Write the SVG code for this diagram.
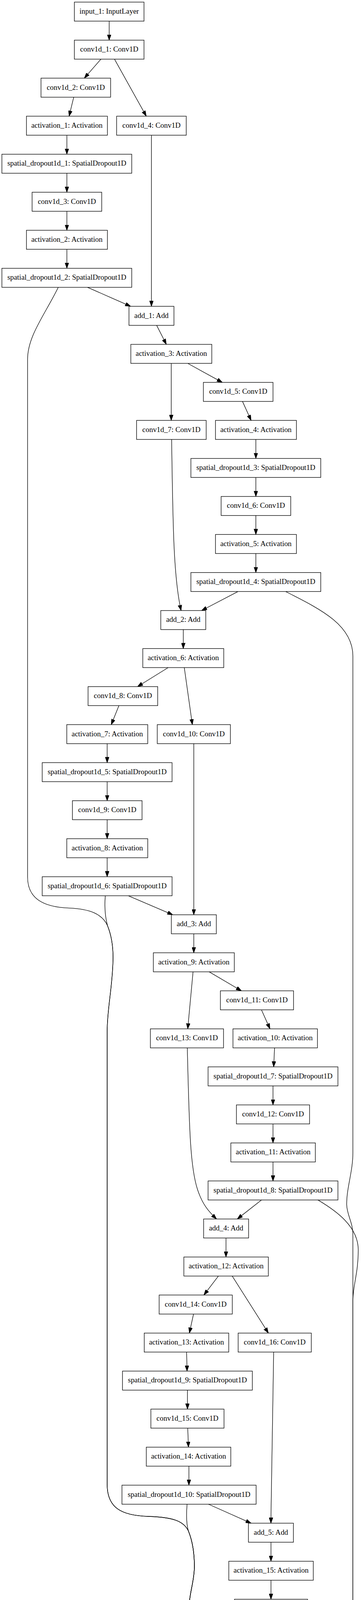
<svg xmlns="http://www.w3.org/2000/svg" width="923" height="4927" viewBox="0 0 923 4927">
<style>
.node rect{fill:#fff;stroke:#000;stroke-width:1.35}
.node text{font-family:"Liberation Serif","Times New Roman",serif;font-size:18.93px;text-anchor:middle;fill:#000}
#edges path{fill:none;stroke:#000;stroke-width:1.35;marker-end:url(#ah)}
</style>
<defs>
<marker id="ah" markerUnits="userSpaceOnUse" markerWidth="14" markerHeight="10" viewBox="0 0 13.5 9.4" refX="13.5" refY="4.7" orient="auto">
<path d="M0,0 L13.5,4.7 L0,9.4 z" fill="#000" stroke="#000" stroke-width="1"/>
</marker>
</defs>
<rect x="0" y="0" width="923" height="4927" fill="#fff"/>
<g id="edges">
<path d="M279.2,54.1 L279.2,102.75"/>
<path d="M258,151.45 L215.6,200.1"/>
<path d="M292.7,151.45 L374,297.45"/>
<path d="M188.5,248.8 L176.7,297.45"/>
<path d="M171,346.15 L171,394.8"/>
<path d="M387.2,346.15 L387.2,784.2"/>
<path d="M171,443.5 L171,492.15"/>
<path d="M171,540.85 L171,589.5"/>
<path d="M171,638.2 L171,686.85"/>
<path d="M223.8,735.55 L334,784.2"/>
<path d="M149,735.55 C115,805 70.5,860 70.5,920 L70.5,2245 C70.5,2300 110,2322 176.7,2324.7 C230,2327 262,2340 275,2370 C285,2395 289,2420 289,2450 C289,2520 274,2580 274,2640 L274,3800 C274,3860 310,3880 380,3882 C440,3884 470,3893 482,3920 C492,3945 497,3975 497,4010 C497,4050 483,4080 483,4120 L483,4560 C483,4625 520,4675 635,4693.7"/>
<path d="M400.5,832.9 L425.3,881.55"/>
<path d="M480,930.25 L568.4,978.9"/>
<path d="M437.8,930.25 L437.8,1076.25"/>
<path d="M620,1027.6 L642,1076.25"/>
<path d="M654.2,1124.95 L654.2,1173.6"/>
<path d="M654.2,1222.3 L654.2,1270.95"/>
<path d="M654.2,1319.65 L654.2,1368.3"/>
<path d="M654.2,1417 L654.2,1465.65"/>
<path d="M438.8,1124.95 C442,1350 444,1480 463,1563"/>
<path d="M608.4,1514.35 L515.4,1563"/>
<path d="M730.4,1514.35 C820,1560 902.3,1600 902.3,1680 L902.3,2950 C902.3,3000 886,3040 886.4,3084 C887,3110 902.3,3130 902.3,3160 L902.3,4570 C902.3,4630 870,4672 749.2,4693.7"/>
<path d="M468.6,1611.7 L468.6,1660.35"/>
<path d="M430,1709.05 L351.6,1757.7"/>
<path d="M471.2,1709.05 L491.8,1855.05"/>
<path d="M304,1806.4 L284.5,1855.05"/>
<path d="M274,1903.75 L274,1952.4"/>
<path d="M495.5,1903.75 L495.5,2341.8"/>
<path d="M274,2001.1 L274,2049.75"/>
<path d="M274,2098.45 L274,2147.1"/>
<path d="M274,2195.8 L274,2244.45"/>
<path d="M328,2293.15 L441.8,2341.8"/>
<path d="M269.2,2293.15 C267,2320 268,2345 275,2370 C285,2395 289,2420 289,2450 C289,2520 274,2580 274,2640 L274,3800 C274,3860 310,3880 380,3882 C440,3884 470,3893 482,3920 C492,3945 497,3975 497,4010 C497,4050 483,4080 483,4120 L483,4560 C483,4625 520,4675 635,4693.7"/>
<path d="M495.5,2390.5 L495.5,2439.15"/>
<path d="M534.8,2487.85 L617.3,2536.5"/>
<path d="M493.6,2487.85 L480,2633.85"/>
<path d="M668.5,2585.2 L690.3,2633.85"/>
<path d="M702,2682.55 L699.7,2731.2"/>
<path d="M698,2779.9 L698,2828.55"/>
<path d="M698,2877.25 L698,2925.9"/>
<path d="M698,2974.6 L698,3023.25"/>
<path d="M478.9,2682.55 C484,2900 487,2990 505,3045 C518,3085 535,3103 553.7,3120.6"/>
<path d="M668.5,3071.95 L606.7,3120.6"/>
<path d="M812.8,3071.95 C860,3100 916,3140 916,3200 C916,3260 902.3,3290 902.3,3330 L902.3,4570 C902.3,4630 870,4672 749.2,4693.7"/>
<path d="M577.8,3169.3 L577.8,3217.95"/>
<path d="M558.4,3266.65 L521.3,3315.3"/>
<path d="M593.7,3266.65 L686.2,3412.65"/>
<path d="M494.8,3364 L484.2,3412.65"/>
<path d="M477.1,3461.35 L478.3,3510"/>
<path d="M699.7,3461.35 C697,3600 694,3750 692.7,3899.4"/>
<path d="M479.3,3558.7 L479.3,3607.35"/>
<path d="M480,3656.05 L481.8,3704.7"/>
<path d="M483,3753.4 L483,3802.05"/>
<path d="M533,3850.75 L642,3899.4"/>
<path d="M478.3,3850.75 C476,3880 477,3905 482,3920 C492,3945 497,3975 497,4010 C497,4050 483,4080 483,4120 L483,4560 C483,4625 520,4675 635,4693.7"/>
<path d="M692.8,3948.1 L692.8,3996.75"/>
<path d="M692.8,4045.45 L692.8,4094.1"/>
<path d="M692.8,4142.8 L692.8,4191.45"/>
<path d="M692.8,4240.15 L692.8,4288.8"/>
<path d="M692.8,4337.5 L692.8,4386.15"/>
<path d="M692.8,4434.85 L692.8,4483.5"/>
<path d="M692.8,4532.2 L692.8,4580.85"/>
<path d="M692.8,4629.55 L692.8,4678.2"/>
<path d="M692.8,4726.9 L692.8,4775.55"/>
<path d="M692.8,4824.25 L692.8,4872.9"/>
</g>
<g id="input_1" class="node"><rect x="190.2" y="5.4" width="178" height="48.7"/><text x="279.2" y="34.85">input_1: InputLayer</text></g>
<g id="conv1d_1" class="node"><rect x="190.2" y="102.75" width="178" height="48.7"/><text x="279.2" y="132.2">conv1d_1: Conv1D</text></g>
<g id="conv1d_2" class="node"><rect x="104.8" y="200.1" width="178" height="48.7"/><text x="193.8" y="229.55">conv1d_2: Conv1D</text></g>
<g id="activation_1" class="node"><rect x="67.6" y="297.45" width="207" height="48.7"/><text x="171.1" y="326.9">activation_1: Activation</text></g>
<g id="conv1d_4" class="node"><rect x="298.2" y="297.45" width="178" height="48.7"/><text x="387.2" y="326.9">conv1d_4: Conv1D</text></g>
<g id="spatial_dropout1d_1" class="node"><rect x="4.8" y="394.8" width="332" height="48.7"/><text x="170.8" y="424.25">spatial_dropout1d_1: SpatialDropout1D</text></g>
<g id="conv1d_3" class="node"><rect x="82.1" y="492.15" width="178" height="48.7"/><text x="171.1" y="521.6">conv1d_3: Conv1D</text></g>
<g id="activation_2" class="node"><rect x="67.6" y="589.5" width="207" height="48.7"/><text x="171.1" y="618.95">activation_2: Activation</text></g>
<g id="spatial_dropout1d_2" class="node"><rect x="4.8" y="686.85" width="332" height="48.7"/><text x="170.8" y="716.3">spatial_dropout1d_2: SpatialDropout1D</text></g>
<g id="add_1" class="node"><rect x="329.7" y="784.2" width="115" height="48.7"/><text x="387.2" y="813.65">add_1: Add</text></g>
<g id="activation_3" class="node"><rect x="334.5" y="881.55" width="207" height="48.7"/><text x="438" y="911">activation_3: Activation</text></g>
<g id="conv1d_5" class="node"><rect x="520" y="978.9" width="178" height="48.7"/><text x="609" y="1008.35">conv1d_5: Conv1D</text></g>
<g id="conv1d_7" class="node"><rect x="349.2" y="1076.25" width="178" height="48.7"/><text x="438.2" y="1105.7">conv1d_7: Conv1D</text></g>
<g id="activation_4" class="node"><rect x="550.9" y="1076.25" width="207" height="48.7"/><text x="654.4" y="1105.7">activation_4: Activation</text></g>
<g id="spatial_dropout1d_3" class="node"><rect x="488.1" y="1173.6" width="332" height="48.7"/><text x="654.1" y="1203.05">spatial_dropout1d_3: SpatialDropout1D</text></g>
<g id="conv1d_6" class="node"><rect x="565.4" y="1270.95" width="178" height="48.7"/><text x="654.4" y="1300.4">conv1d_6: Conv1D</text></g>
<g id="activation_5" class="node"><rect x="550.9" y="1368.3" width="207" height="48.7"/><text x="654.4" y="1397.75">activation_5: Activation</text></g>
<g id="spatial_dropout1d_4" class="node"><rect x="488.1" y="1465.65" width="332" height="48.7"/><text x="654.1" y="1495.1">spatial_dropout1d_4: SpatialDropout1D</text></g>
<g id="add_2" class="node"><rect x="411.1" y="1563" width="115" height="48.7"/><text x="468.6" y="1592.45">add_2: Add</text></g>
<g id="activation_6" class="node"><rect x="365.1" y="1660.35" width="207" height="48.7"/><text x="468.6" y="1689.8">activation_6: Activation</text></g>
<g id="conv1d_8" class="node"><rect x="225.2" y="1757.7" width="178" height="48.7"/><text x="314.2" y="1787.15">conv1d_8: Conv1D</text></g>
<g id="activation_7" class="node"><rect x="170.7" y="1855.05" width="207" height="48.7"/><text x="274.2" y="1884.5">activation_7: Activation</text></g>
<g id="conv1d_10" class="node"><rect x="402.1" y="1855.05" width="187" height="48.7"/><text x="495.6" y="1884.5">conv1d_10: Conv1D</text></g>
<g id="spatial_dropout1d_5" class="node"><rect x="107.9" y="1952.4" width="332" height="48.7"/><text x="273.9" y="1981.85">spatial_dropout1d_5: SpatialDropout1D</text></g>
<g id="conv1d_9" class="node"><rect x="185.2" y="2049.75" width="178" height="48.7"/><text x="274.2" y="2079.2">conv1d_9: Conv1D</text></g>
<g id="activation_8" class="node"><rect x="170.7" y="2147.1" width="207" height="48.7"/><text x="274.2" y="2176.55">activation_8: Activation</text></g>
<g id="spatial_dropout1d_6" class="node"><rect x="107.9" y="2244.45" width="332" height="48.7"/><text x="273.9" y="2273.9">spatial_dropout1d_6: SpatialDropout1D</text></g>
<g id="add_3" class="node"><rect x="438.1" y="2341.8" width="115" height="48.7"/><text x="495.6" y="2371.25">add_3: Add</text></g>
<g id="activation_9" class="node"><rect x="392.1" y="2439.15" width="207" height="48.7"/><text x="495.6" y="2468.6">activation_9: Activation</text></g>
<g id="conv1d_11" class="node"><rect x="563.5" y="2536.5" width="187" height="48.7"/><text x="657" y="2565.95">conv1d_11: Conv1D</text></g>
<g id="conv1d_13" class="node"><rect x="384.5" y="2633.85" width="187" height="48.7"/><text x="478" y="2663.3">conv1d_13: Conv1D</text></g>
<g id="activation_10" class="node"><rect x="595.6" y="2633.85" width="216" height="48.7"/><text x="703.6" y="2663.3">activation_10: Activation</text></g>
<g id="spatial_dropout1d_7" class="node"><rect x="532" y="2731.2" width="332" height="48.7"/><text x="698" y="2760.65">spatial_dropout1d_7: SpatialDropout1D</text></g>
<g id="conv1d_12" class="node"><rect x="604.5" y="2828.55" width="187" height="48.7"/><text x="698" y="2858">conv1d_12: Conv1D</text></g>
<g id="activation_11" class="node"><rect x="590.3" y="2925.9" width="216" height="48.7"/><text x="698.3" y="2955.35">activation_11: Activation</text></g>
<g id="spatial_dropout1d_8" class="node"><rect x="532" y="3023.25" width="332" height="48.7"/><text x="698" y="3052.7">spatial_dropout1d_8: SpatialDropout1D</text></g>
<g id="add_4" class="node"><rect x="520.6" y="3120.6" width="115" height="48.7"/><text x="578.1" y="3150.05">add_4: Add</text></g>
<g id="activation_12" class="node"><rect x="470.1" y="3217.95" width="216" height="48.7"/><text x="578.1" y="3247.4">activation_12: Activation</text></g>
<g id="conv1d_14" class="node"><rect x="406.9" y="3315.3" width="187" height="48.7"/><text x="500.4" y="3344.75">conv1d_14: Conv1D</text></g>
<g id="activation_13" class="node"><rect x="368.8" y="3412.65" width="216" height="48.7"/><text x="476.8" y="3442.1">activation_13: Activation</text></g>
<g id="conv1d_16" class="node"><rect x="608.9" y="3412.65" width="187" height="48.7"/><text x="702.4" y="3442.1">conv1d_16: Conv1D</text></g>
<g id="spatial_dropout1d_9" class="node"><rect x="313.2" y="3510" width="332" height="48.7"/><text x="479.2" y="3539.45">spatial_dropout1d_9: SpatialDropout1D</text></g>
<g id="conv1d_15" class="node"><rect x="385.7" y="3607.35" width="187" height="48.7"/><text x="479.2" y="3636.8">conv1d_15: Conv1D</text></g>
<g id="activation_14" class="node"><rect x="374.1" y="3704.7" width="216" height="48.7"/><text x="482.1" y="3734.15">activation_14: Activation</text></g>
<g id="spatial_dropout1d_10" class="node"><rect x="311.8" y="3802.05" width="343" height="48.7"/><text x="483.3" y="3831.5">spatial_dropout1d_10: SpatialDropout1D</text></g>
<g id="add_5" class="node"><rect x="635.2" y="3899.4" width="115" height="48.7"/><text x="692.7" y="3928.85">add_5: Add</text></g>
<g id="activation_15" class="node"><rect x="585" y="3996.75" width="216" height="48.7"/><text x="693" y="4026.2">activation_15: Activation</text></g>
<g id="conv1d_17" class="node"><rect x="599.5" y="4094.1" width="187" height="48.7"/><text x="693" y="4123.55">conv1d_17: Conv1D</text></g>
<g id="activation_16" class="node"><rect x="585" y="4191.45" width="216" height="48.7"/><text x="693" y="4220.9">activation_16: Activation</text></g>
<g id="spatial_dropout1d_11" class="node"><rect x="521.2" y="4288.8" width="343" height="48.7"/><text x="692.7" y="4318.25">spatial_dropout1d_11: SpatialDropout1D</text></g>
<g id="conv1d_18" class="node"><rect x="599.5" y="4386.15" width="187" height="48.7"/><text x="693" y="4415.6">conv1d_18: Conv1D</text></g>
<g id="activation_17" class="node"><rect x="585" y="4483.5" width="216" height="48.7"/><text x="693" y="4512.95">activation_17: Activation</text></g>
<g id="spatial_dropout1d_12" class="node"><rect x="521.2" y="4580.85" width="343" height="48.7"/><text x="692.7" y="4610.3">spatial_dropout1d_12: SpatialDropout1D</text></g>
<g id="add_7" class="node"><rect x="635.2" y="4678.2" width="115" height="48.7"/><text x="692.7" y="4707.65">add_7: Add</text></g>
<g id="lambda_1" class="node"><rect x="607.2" y="4775.55" width="171" height="48.7"/><text x="692.7" y="4805">lambda_1: Lambda</text></g>
<g id="dense_1" class="node"><rect x="621.5" y="4872.9" width="143" height="48.7"/><text x="693" y="4902.35">dense_1: Dense</text></g>
</svg>
